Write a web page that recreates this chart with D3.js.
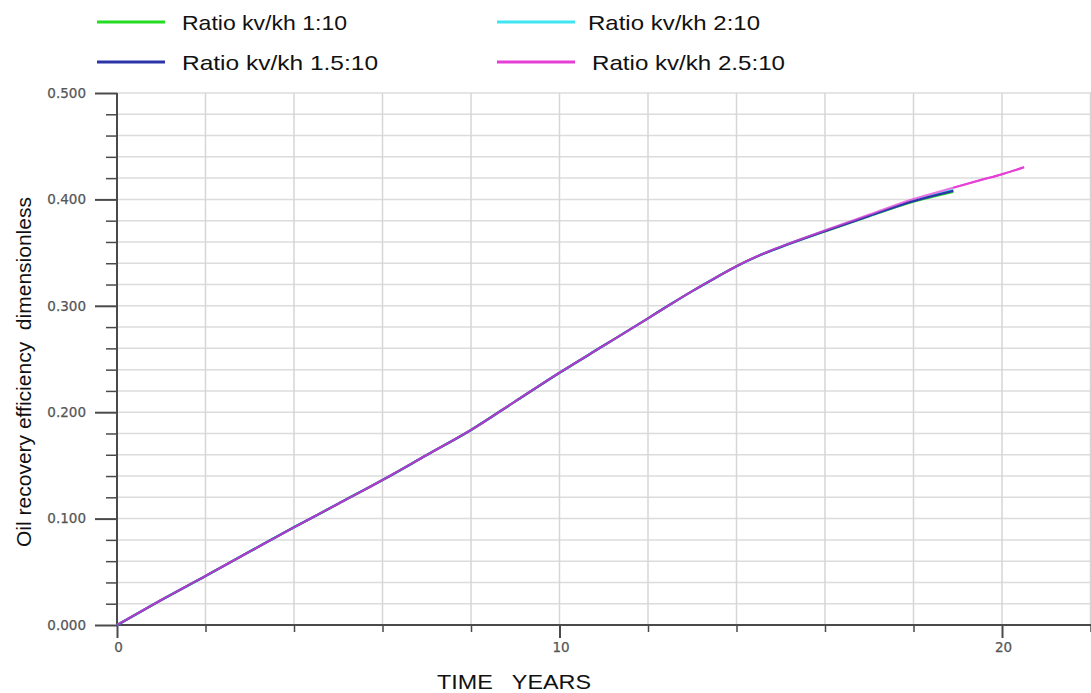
<!DOCTYPE html>
<html>
<head>
<meta charset="utf-8">
<script src="https://cdn.jsdelivr.net/npm/d3@7/dist/d3.min.js"></script>
<style>
  html, body { margin: 0; padding: 0; background: #fff; }
  svg { display: block; }
</style>
</head>
<body>
<svg id="chart" width="1091" height="693"></svg>
<script>
// ---- DATA ----
const years = [0, 1, 2, 3, 4, 5, 6, 7, 8, 9, 10, 11, 12, 12.5, 13, 13.5, 14, 14.5, 15, 16, 17, 18, 18.9, 19.5, 20, 20.5];
const ratio1_10   = [0, 0.0235, 0.0461, 0.0690, 0.0918, 0.1140, 0.1363, 0.1598, 0.1833, 0.2102, 0.2371, 0.2626, 0.2882, 0.3012, 0.3138, 0.3257, 0.3372, 0.3470, 0.3552, 0.3700, 0.3842, 0.3978, 0.4070, null, null, null];
const ratio1_5_10 = [0, 0.0235, 0.0461, 0.0690, 0.0918, 0.1140, 0.1363, 0.1598, 0.1833, 0.2102, 0.2371, 0.2626, 0.2882, 0.3012, 0.3138, 0.3257, 0.3372, 0.3470, 0.3553, 0.3702, 0.3845, 0.3983, 0.4080, null, null, null];
const ratio2_10   = [0, 0.0235, 0.0461, 0.0690, 0.0918, 0.1140, 0.1363, 0.1598, 0.1833, 0.2102, 0.2371, 0.2626, 0.2882, 0.3012, 0.3138, 0.3257, 0.3372, 0.3471, 0.3554, 0.3705, 0.3848, 0.3988, 0.4090, null, null, null];
const ratio2_5_10 = [0, 0.0235, 0.0461, 0.0690, 0.0918, 0.1140, 0.1363, 0.1598, 0.1833, 0.2102, 0.2371, 0.2626, 0.2882, 0.3012, 0.3138, 0.3257, 0.3372, 0.3472, 0.3556, 0.3710, 0.3857, 0.4003, 0.4110, 0.4180, 0.4237, 0.4302];
const seriesNames = ["Ratio kv/kh 1:10", "Ratio kv/kh 1.5:10", "Ratio kv/kh 2:10", "Ratio kv/kh 2.5:10"];
const yTickLabels = ["0.000", "0.100", "0.200", "0.300", "0.400", "0.500"];
const xTickLabels = ["0", "10", "20"];

(function () {
// ---- LAYOUT ----
const svg = d3.select("#chart");
const pLeft = 117, pRight = 1091, pTop = 93, pBottom = 625;
const x = d3.scaleLinear().domain([0, 20]).range([pLeft, 1002]);
const y = d3.scaleLinear().domain([0, 0.5]).range([pBottom, pTop]);
const xMaxVal = x.invert(pRight);

const colors = ["#22dd22", "#2c35a8", "#3fe6f2", "#e63fd8"];

// grid
const g = svg.append("g");
const hGrid = d3.range(0, 0.5001, 0.02);
g.selectAll(".hg").data(hGrid).enter().append("line")
  .attr("x1", pLeft).attr("x2", pRight)
  .attr("y1", d => y(d)).attr("y2", d => y(d))
  .attr("stroke", "#dcdcdc").attr("stroke-width", 1.5);
const vGrid = d3.range(2, xMaxVal, 2);
g.selectAll(".vg").data(vGrid).enter().append("line")
  .attr("x1", d => x(d)).attr("x2", d => x(d))
  .attr("y1", pTop).attr("y2", pBottom)
  .attr("stroke", "#d6d6d6").attr("stroke-width", 1.5);

// axes
const axisColor = "#4a4a4a";
const tickFont = "'DejaVu Sans', sans-serif";
const yMajor = d3.range(0, 0.5001, 0.1);
const yMinor = hGrid.filter(d => Math.abs(Math.round(d * 10) - d * 10) > 1e-6);
const yAxis = d3.axisLeft(y).tickValues(yMajor).tickSize(22).tickFormat((d, i) => yTickLabels[i]);
const yAxisG = svg.append("g").attr("transform", `translate(${pLeft},0)`).call(yAxis);
yAxisG.select(".domain").remove();
yAxisG.selectAll(".tick line").attr("stroke", axisColor).attr("stroke-width", 2);
yAxisG.selectAll(".tick text")
  .attr("x", -31)
  .attr("fill", "#555")
  .attr("stroke", "#555").attr("stroke-width", 0.25)
  .style("font-family", tickFont)
  .style("font-size", "13.5px");
const yMinorAxis = d3.axisLeft(y).tickValues(yMinor).tickSize(11).tickFormat("");
const yMinorG = svg.append("g").attr("transform", `translate(${pLeft},0)`).call(yMinorAxis);
yMinorG.select(".domain").remove();
yMinorG.selectAll(".tick line").attr("stroke", axisColor).attr("stroke-width", 1.5);

const xMajor = [0, 10, 20];
const xMinorT = d3.range(2, xMaxVal, 2).filter(d => d % 10 !== 0);
const xAxis = d3.axisBottom(x).tickValues(xMajor).tickSize(13).tickFormat((d, i) => xTickLabels[i]);
const xAxisG = svg.append("g").attr("transform", `translate(0,${pBottom})`).call(xAxis);
xAxisG.select(".domain").remove();
xAxisG.selectAll(".tick line").attr("stroke", axisColor).attr("stroke-width", 2);
xAxisG.selectAll(".tick text")
  .attr("y", 17).attr("dx", 1)
  .attr("fill", "#555")
  .attr("stroke", "#555").attr("stroke-width", 0.25)
  .style("font-family", tickFont)
  .style("font-size", "13.5px");
const xMinorAxis = d3.axisBottom(x).tickValues(xMinorT).tickSize(7).tickFormat("");
const xMinorG = svg.append("g").attr("transform", `translate(0,${pBottom})`).call(xMinorAxis);
xMinorG.select(".domain").remove();
xMinorG.selectAll(".tick line").attr("stroke", axisColor).attr("stroke-width", 1.5);

// axis lines
svg.append("line").attr("x1", pLeft).attr("x2", pLeft).attr("y1", pTop).attr("y2", pBottom + 1)
  .attr("stroke", axisColor).attr("stroke-width", 2);
svg.append("line").attr("x1", pLeft).attr("x2", pRight).attr("y1", pBottom).attr("y2", pBottom)
  .attr("stroke", axisColor).attr("stroke-width", 2);

// lines
const allSeries = [ratio1_10, ratio2_10, ratio1_5_10, ratio2_5_10];
const seriesColors = [colors[0], colors[2], colors[1], colors[3]];
const lineGen = d3.line()
  .defined(d => d[1] !== null)
  .x(d => x(d[0])).y(d => y(d[1]))
  .curve(d3.curveMonotoneX);
allSeries.forEach((vals, i) => {
  const pts = years.map((yr, j) => [yr, vals[j]]);
  svg.append("path")
    .attr("d", lineGen(pts))
    .attr("fill", "none")
    .attr("stroke", seriesColors[i])
    .attr("stroke-width", i === 3 ? 2.1 : 2.3)
    .attr("stroke-opacity", i === 3 ? 0.72 : 1);
});
// tail of the longest series (beyond the end of the others) drawn solid
const lastShared = years[ratio1_5_10.filter(v => v !== null).length - 1];
const tailPts = years.map((yr, j) => [yr, ratio2_5_10[j]]).filter(p => p[0] >= lastShared - 0.3);
svg.append("path")
  .attr("d", d3.line().x(d => x(d[0])).y(d => y(d[1])).curve(d3.curveMonotoneX)(tailPts))
  .attr("fill", "none").attr("stroke", colors[3]).attr("stroke-width", 2);

// legend
const legendItems = [
  { name: seriesNames[0], color: colors[0], x1: 97, x2: 165, tx: 182, y: 22, w: 165 },
  { name: seriesNames[1], color: colors[1], x1: 97, x2: 165, tx: 182, y: 62, w: 196 },
  { name: seriesNames[2], color: colors[2], x1: 497, x2: 575, tx: 588, y: 22, w: 172 },
  { name: seriesNames[3], color: colors[3], x1: 497, x2: 575, tx: 592, y: 62, w: 193 }
];
const leg = svg.append("g");
legendItems.forEach(it => {
  leg.append("line").attr("x1", it.x1).attr("x2", it.x2).attr("y1", it.y).attr("y2", it.y)
    .attr("stroke", it.color).attr("stroke-width", 3);
  leg.append("text").attr("x", it.tx).attr("y", it.y + 8)
    .attr("fill", "#111")
    .attr("textLength", it.w)
    .attr("lengthAdjust", "spacingAndGlyphs")
    .style("font-family", "'Liberation Sans', Arial, sans-serif")
    .style("font-size", "21px")
    .text(it.name);
});

// axis titles
svg.append("text")
  .attr("transform", "translate(31,372) rotate(-90)")
  .attr("text-anchor", "middle")
  .attr("fill", "#111")
  .attr("textLength", 350)
  .attr("lengthAdjust", "spacingAndGlyphs")
  .style("font-family", "'Liberation Sans', Arial, sans-serif")
  .style("font-size", "20.5px")
  .style("white-space", "pre")
  .text("Oil recovery efficiency  dimensionless");
svg.append("text")
  .attr("x", 514).attr("y", 689)
  .attr("text-anchor", "middle")
  .attr("fill", "#111")
  .attr("textLength", 154)
  .attr("lengthAdjust", "spacingAndGlyphs")
  .style("font-family", "'Liberation Sans', Arial, sans-serif")
  .style("font-size", "20.5px")
  .style("white-space", "pre")
  .text("TIME   YEARS");
})();
</script>
</body>
</html>
